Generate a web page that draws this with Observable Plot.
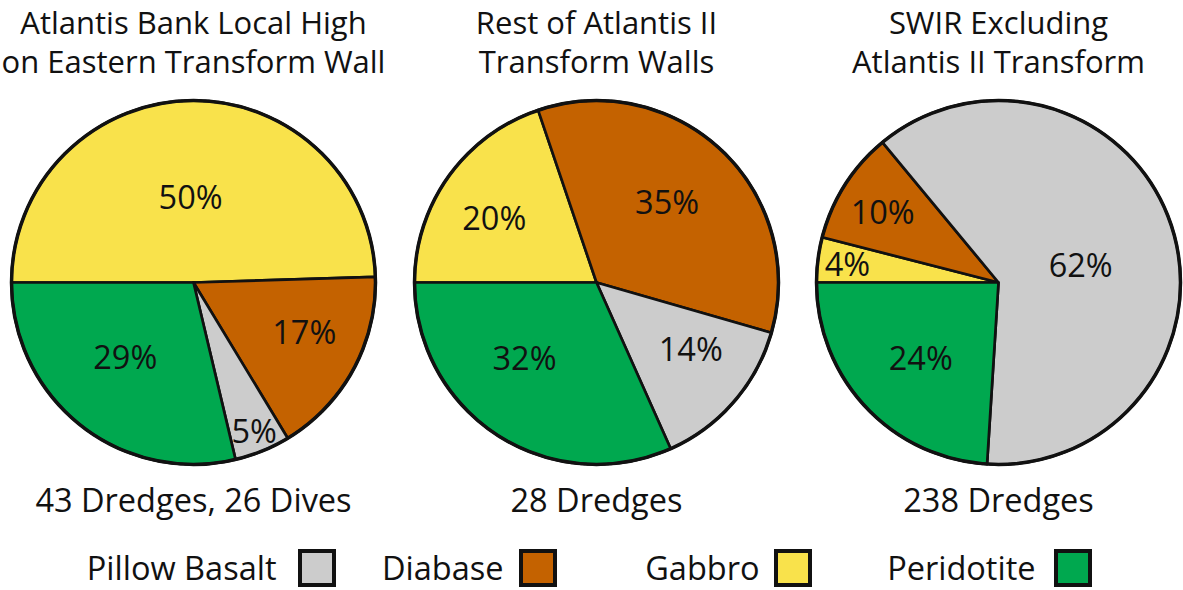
<!DOCTYPE html>
<html>
<head>
<meta charset="utf-8">
<script src="https://cdn.jsdelivr.net/npm/d3@7"></script>
<script src="https://cdn.jsdelivr.net/npm/@observablehq/plot@0.6"></script>
<style>
  html, body { margin: 0; padding: 0; background: #fff; }
  #chart svg { display: block; }
</style>
</head>
<body>
<div id="chart"></div>
<script>
// ---------------- DATA ----------------
const titleLine1 = ["Atlantis Bank Local High", "Rest of Atlantis II", "SWIR Excluding"];
const titleLine2 = ["on Eastern Transform Wall", "Transform Walls", "Atlantis II Transform"];
const counts = ["43 Dredges, 26 Dives", "28 Dredges", "238 Dredges"];
const rockTypes = ["Gabbro", "Diabase", "Pillow Basalt", "Peridotite"];
const atlantisBankPct = [50, 17, 5, 29];
const restOfAtlantisPct = [20, 35, 14, 32];
const swirPct = [4, 10, 62, 24];
const legendOrder = ["Pillow Basalt", "Diabase", "Gabbro", "Peridotite"];
const rockColors = ["#f9e24b", "#c46200", "#cccccc", "#00a84f"];

// ---------------- LAYOUT ----------------
const W = 1183, H = 590;
const pieCx = [193, 596, 998];
const pieCy = 282;
const R = 182;
const titleY1 = 33, titleY2 = 72, countY = 511;
// label placement: [angle deg clockwise from north, radius fraction]
const labelPolar = [
  [[358, 0.46], [114.7, 0.67], [158, 0.89], [222, 0.56]],
  [[301.7, 0.66], [42, 0.58], [126, 0.64], [223, 0.58]],
  [[276.4, 0.835], [300.7, 0.74], [79, 0.46], [225.4, 0.6]]
];
const legendCx = [317, 538, 793, 1073];
const legendTextEnd = [276, 503, 759, 1035];
const legendCy = 568, legendHalf = 17, legendTextY = 579;
const FONT = "Open Sans";
const FS = 32.5, FS_TITLE = 31;

// ---------------- BUILD ----------------
const series = [atlantisBankPct, restOfAtlantisPct, swirPct];
const pie = d3.pie().sort(null).startAngle(-Math.PI / 2).endAngle(3 * Math.PI / 2);

const slicePts = [];
const labels = [];
series.forEach((vals, p) => {
  const arcs = pie(vals);
  arcs.forEach((a, i) => {
    const id = p + "-" + i;
    const cx = pieCx[p];
    slicePts.push({id, rock: rockTypes[i], x: cx, y: pieCy});
    const n = Math.max(2, Math.ceil((a.endAngle - a.startAngle) / (Math.PI / 360)));
    for (let k = 0; k <= n; k++) {
      const t = a.startAngle + (a.endAngle - a.startAngle) * k / n;
      slicePts.push({id, rock: rockTypes[i], x: cx + R * Math.sin(t), y: pieCy - R * Math.cos(t)});
    }
    slicePts.push({id, rock: rockTypes[i], x: cx, y: pieCy});
    const [deg, rf] = labelPolar[p][i];
    const t = deg * Math.PI / 180;
    labels.push({text: vals[i] + "%", x: cx + rf * R * Math.sin(t), y: pieCy - rf * R * Math.cos(t)});
  });
});

const titles = [];
titleLine1.forEach((t, p) => titles.push({text: t, x: pieCx[p], y: titleY1}));
titleLine2.forEach((t, p) => titles.push({text: t, x: pieCx[p], y: titleY2}));
const countData = counts.map((t, p) => ({text: t, x: pieCx[p], y: countY}));
const centers = pieCx.map(x => ({x, y: pieCy}));
const legend = legendOrder.map((r, i) => ({rock: r, x: legendCx[i], tx: legendTextEnd[i]}));

const chart = Plot.plot({
  width: W, height: H, margin: 0,
  x: {domain: [0, W], range: [0, W], axis: null},
  y: {domain: [0, H], range: [0, H], axis: null},
  color: {domain: rockTypes, range: rockColors},
  style: {fontFamily: FONT},
  marks: [
    Plot.line(slicePts, {x: "x", y: "y", z: "id", fill: "rock", stroke: "#111", strokeWidth: 2.7, strokeLinejoin: "round", curve: "linear"}),
    Plot.dot(centers, {x: "x", y: "y", r: R, fill: "none", stroke: "#111", strokeWidth: 3.5}),
    Plot.text(labels, {x: "x", y: "y", text: "text", fontSize: FS, fill: "#111"}),
    Plot.text(titles, {x: "x", y: "y", text: "text", fontSize: FS_TITLE, fill: "#111", lineAnchor: "bottom"}),
    Plot.text(countData, {x: "x", y: "y", text: "text", fontSize: FS, fill: "#111", lineAnchor: "bottom"}),
    Plot.rect(legend, {x1: d => d.x - legendHalf, x2: d => d.x + legendHalf, y1: legendCy - legendHalf, y2: legendCy + legendHalf, fill: "rock", stroke: "#111", strokeWidth: 4}),
    Plot.text(legend, {x: "tx", y: legendTextY, text: "rock", textAnchor: "end", fontSize: FS, fill: "#111", lineAnchor: "bottom"})
  ]
});
document.getElementById("chart").append(chart);
</script>
</body>
</html>
